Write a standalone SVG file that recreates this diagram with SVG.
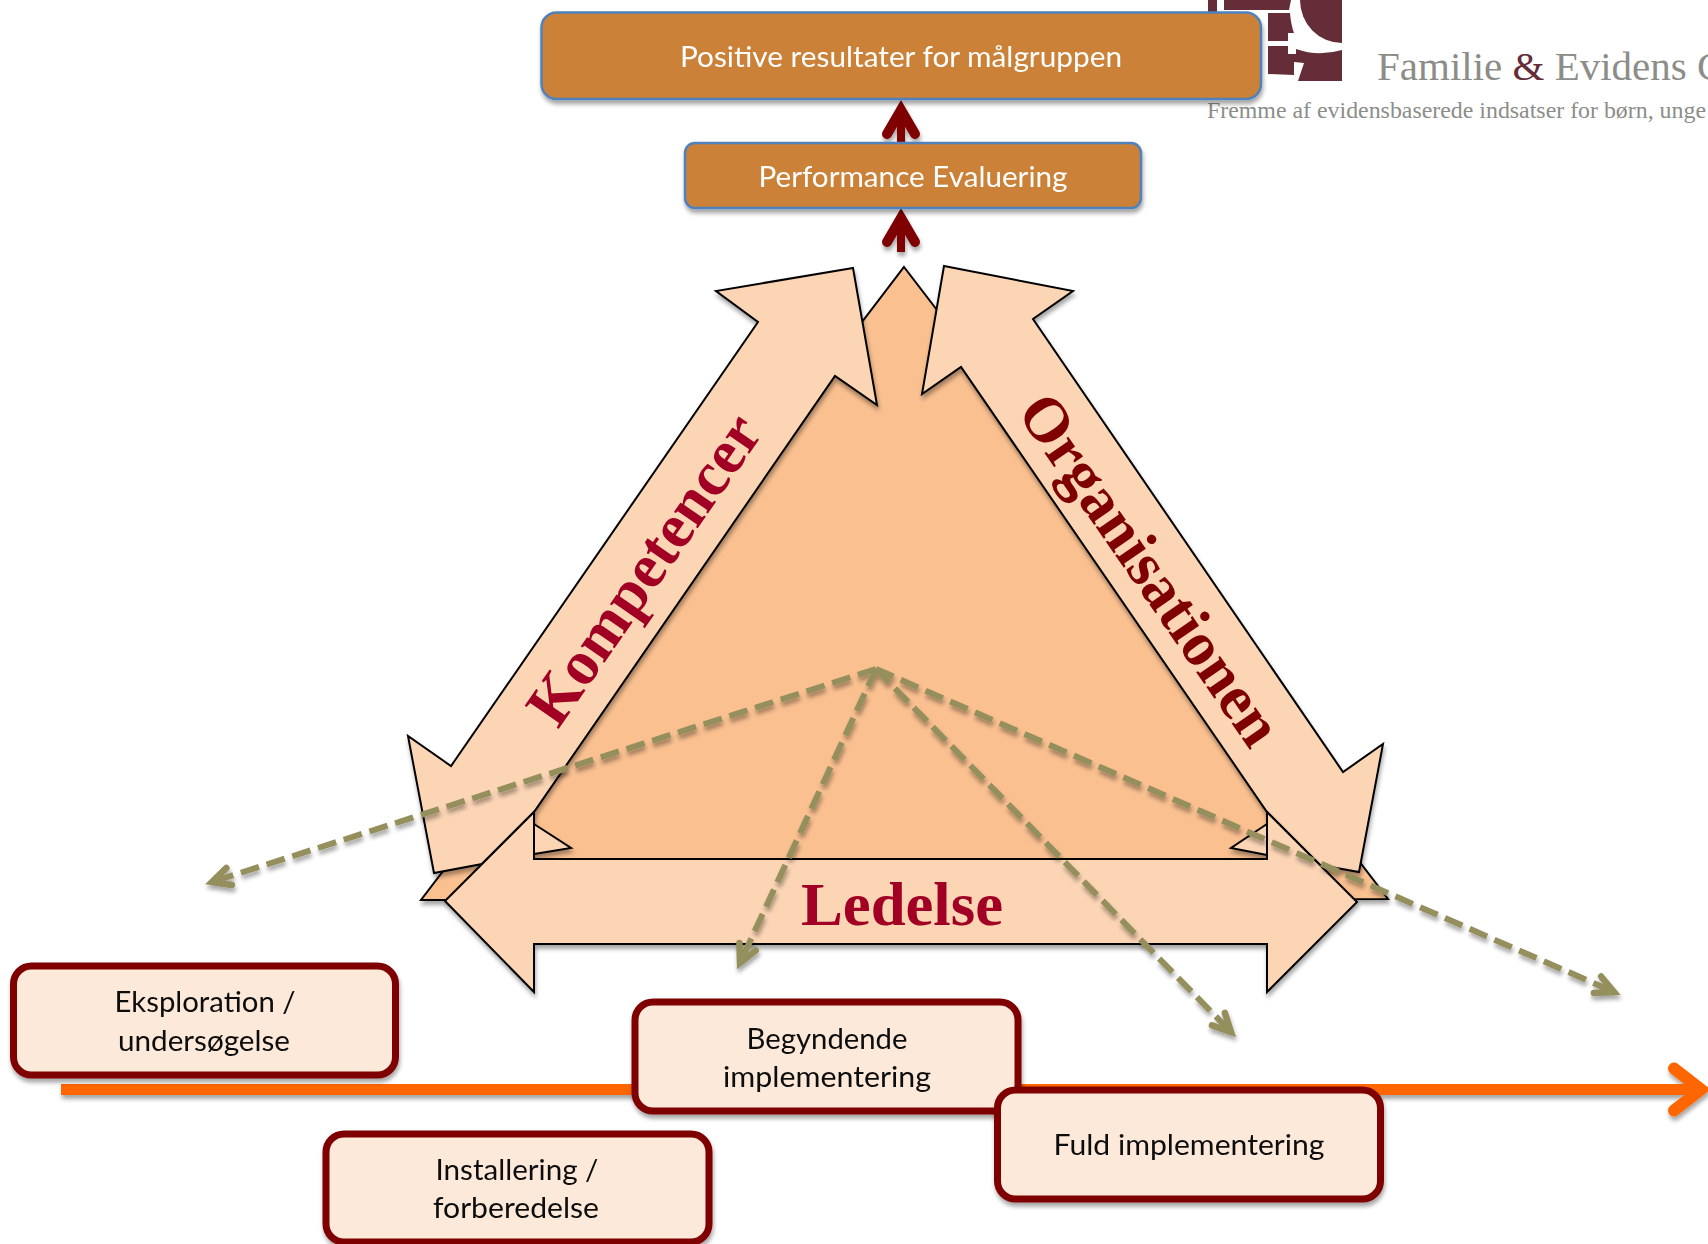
<svg xmlns="http://www.w3.org/2000/svg" width="1708" height="1244" viewBox="0 0 1708 1244">
<style>
.body{font-family:"Lato","Liberation Sans",sans-serif;font-size:28px;text-anchor:middle}
.white{fill:#fff}
.dark{fill:#0d0d0d}
.head{font-family:"Liberation Serif",serif;font-weight:bold;font-size:63px}
.phase rect{fill:#fde9d9;stroke:#7f0000;stroke-width:7}
.result rect{fill:#cb8237;stroke:#4f81bd;stroke-width:2.500}
.shape{stroke:#000;stroke-width:2;stroke-linejoin:miter}
.logo{fill:#652d38}
.lt{font-family:"Liberation Serif",serif;fill:#8c8d89}
</style>
<defs>
<filter id="sh" x="-10%" y="-10%" width="120%" height="125%"><feDropShadow dx="1" dy="4" stdDeviation="2" flood-color="#000" flood-opacity=".35"/></filter>
<marker id="mr" markerUnits="userSpaceOnUse" markerWidth="60" markerHeight="60" viewBox="-45 -30 60 60" refX="0" refY="0" orient="auto" overflow="visible"><path d="M-24-14L0 0L-24 14" fill="none" stroke="#7f0000" stroke-width="10" stroke-linecap="round"/></marker>
<marker id="mo" markerUnits="userSpaceOnUse" markerWidth="40" markerHeight="40" viewBox="-30 -20 40 40" refX="0" refY="0" orient="auto" overflow="visible"><path d="M-18-9L0 0L-18 9" fill="none" stroke="#948f5c" stroke-width="6.500" stroke-linecap="round"/></marker>
<marker id="mg" markerUnits="userSpaceOnUse" markerWidth="80" markerHeight="80" viewBox="-50 -40 80 80" refX="0" refY="0" orient="auto" overflow="visible"><path d="M-27-21L0 0L-27 21" fill="none" stroke="#f60" stroke-width="12" stroke-linecap="round"/></marker>
</defs>
<rect width="1708" height="1244" fill="#fff"/>
<g id="logo">
<rect class="logo" x="1208" y="0" width="9" height="15"/>
<path class="logo" d="M1224 0H1291L1289 10H1224Z"/>
<path class="logo" d="M1268 13H1290Q1291 25 1294 33L1288 33V41H1268Z"/>
<path class="logo" d="M1268 46H1288V54H1294V75L1268 74Z"/>
<path class="logo" d="M1300 0A42 43 0 0 0 1342 43V0Z"/>
<path class="logo" d="M1296 49Q1318 57 1342 50V81H1298L1304 63L1294 62L1294 54H1296Z"/>
<text class="lt" x="1377" y="80" font-size="41">Familie <tspan fill="#652d38">&amp;</tspan> Evidens C</text>
<text class="lt" x="1207" y="118" font-size="23.500" textLength="499" lengthAdjust="spacingAndGlyphs">Fremme af evidensbaserede indsatser for børn, unge</text>
</g>
<g id="triangle" filter="url(#sh)"><polygon class="shape" fill="#fac090" points="904,267 1388,899 421,900"/></g>
<g id="kompetencer" filter="url(#sh)"><polygon class="shape" fill="#fcd5b5" points="853,268 716,291 758,322 451,766 408,736 434,873 482,864 534,812 835,376 877,405"/></g>
<g id="organisationen" filter="url(#sh)"><polygon class="shape" fill="#fcd5b5" points="944,266 1073,291 1033,319 1343,772 1383,744 1359,872 1320,865 1267,812 961,367 922,394"/></g>
<g id="ledelse" filter="url(#sh)">
<polygon class="shape" fill="#fcd5b5" points="445,901 534,812 534,859 1267,859 1267,812 1357,902 1267,992 1267,944 534,944 534,992"/>
<polygon class="shape" fill="#fcd5b5" points="534,824 571,848 534,854"/>
<polygon class="shape" fill="#fcd5b5" points="1267,824 1231,848 1267,855"/>
</g>
<g id="labels">
<text class="head" fill="#a10024" transform="translate(558 730) rotate(-55.300)" textLength="362" lengthAdjust="spacingAndGlyphs">Kompetencer</text>
<text class="head" fill="#7f0000" transform="translate(1016 412) rotate(55.300)" textLength="412" lengthAdjust="spacingAndGlyphs">Organisationen</text>
<text class="head" fill="#a10024" x="801" y="925" style="font-size:62px" textLength="202" lengthAdjust="spacingAndGlyphs">Ledelse</text>
</g>
<g id="connectors" fill="none">
<g filter="url(#sh)">
<path d="M901 150V110" stroke="#7f0000" stroke-width="8" marker-end="url(#mr)"/>
<path d="M901 252V218" stroke="#7f0000" stroke-width="8" marker-end="url(#mr)"/>
<path d="M61 1089.500H1701" stroke="#f60" stroke-width="11" marker-end="url(#mg)"/>
</g>
<g filter="url(#sh)" stroke="#948f5c" stroke-width="6" stroke-dasharray="19 8">
<path d="M876 669L212 882" marker-end="url(#mo)"/>
<path d="M876 669L740 963" marker-end="url(#mo)"/>
<path d="M876 669L1231 1032" marker-end="url(#mo)"/>
<path d="M876 669L1614 992" marker-end="url(#mo)"/>
</g>
</g>
<g id="n-positive" class="result" filter="url(#sh)"><rect x="541.500" y="12.500" width="719.500" height="86.500" rx="15"/><text class="body white" x="901" y="67" textLength="442" lengthAdjust="spacingAndGlyphs">Positive resultater for målgruppen</text></g>
<g id="n-performance" class="result" filter="url(#sh)"><rect x="685" y="143" width="456" height="65" rx="10"/><text class="body white" x="913" y="187" textLength="309" lengthAdjust="spacingAndGlyphs">Performance Evaluering</text></g>
<g id="n-eksploration" class="phase" filter="url(#sh)"><rect x="13.500" y="966" width="382" height="109" rx="18"/><text class="body dark" x="205" y="1012" textLength="181" lengthAdjust="spacingAndGlyphs">Eksploration /</text><text class="body dark" x="204" y="1051" textLength="172" lengthAdjust="spacingAndGlyphs">undersøgelse</text></g>
<g id="n-installering" class="phase" filter="url(#sh)"><rect x="326" y="1134" width="383" height="108" rx="18"/><text class="body dark" x="517" y="1180" textLength="163" lengthAdjust="spacingAndGlyphs">Installering /</text><text class="body dark" x="516" y="1218" textLength="166" lengthAdjust="spacingAndGlyphs">forberedelse</text></g>
<g id="n-begyndende" class="phase" filter="url(#sh)"><rect x="635" y="1002" width="383" height="109" rx="18"/><text class="body dark" x="827" y="1049" textLength="161" lengthAdjust="spacingAndGlyphs">Begyndende</text><text class="body dark" x="827" y="1087" textLength="208" lengthAdjust="spacingAndGlyphs">implementering</text></g>
<g id="n-fuld" class="phase" filter="url(#sh)"><rect x="997.500" y="1090" width="383" height="109" rx="18"/><text class="body dark" x="1189" y="1155" textLength="271" lengthAdjust="spacingAndGlyphs">Fuld implementering</text></g>
</svg>
